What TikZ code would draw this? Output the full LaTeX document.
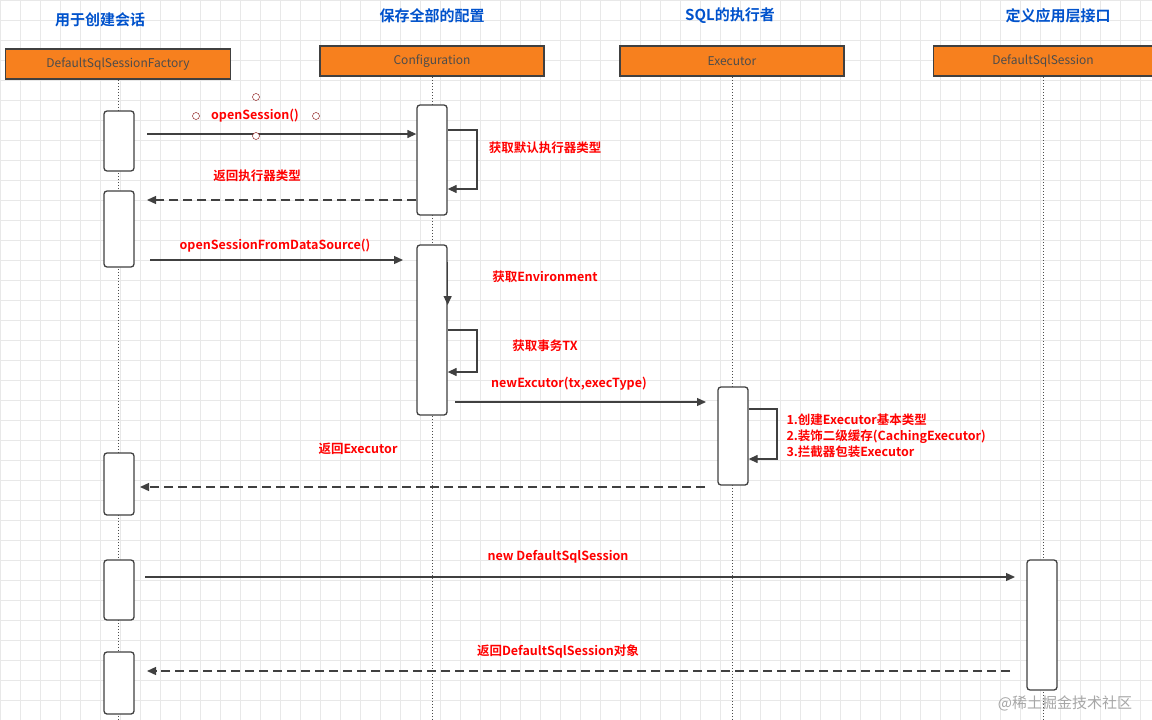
\documentclass[tikz,border=0pt]{standalone}
\usepackage{fontspec}
\setmainfont{Noto Sans CJK SC}[BoldFont={Noto Sans CJK SC Bold}]
\usetikzlibrary{arrows.meta}
\definecolor{headfill}{RGB}{247,128,30}
\tikzset{%
  tipA/.tip={Triangle[length=9pt,width=8pt]},
  head/.style={draw=black!75,fill=headfill,minimum width=224pt,minimum height=30pt,line width=1.6pt,font=\fontsize{12}{14}\selectfont,text=black!70},
  title/.style={text=blue!60!cyan!80!black,font=\bfseries\fontsize{15}{18}\selectfont},
  act/.style={draw=black!75,fill=white,rounded corners=3pt,minimum width=30pt,line width=1.3pt},
  lbl/.style={text=red,font=\bfseries\fontsize{12.5}{15}\selectfont},
  msg/.style={draw=black!75,line width=1.3pt,-tipA},
  ret/.style={msg,dashed,dash pattern=on 9pt off 5pt},
  life/.style={black!70,line width=1pt,dotted}
}
\begin{document}
\begin{tikzpicture}[x=1pt,y=-1pt]
\useasboundingbox (0,0) rectangle (1152,720);
\foreach \gx in {0,20,...,1140} \draw[gray!18] (\gx,0) -- (\gx,720);
\foreach \gy in {0,20,...,720} \draw[gray!18] (0,\gy) -- (1152,\gy);
% titles
\node[title] at (100,20) {用于创建会话};
\node[title] at (432,16) {保存全部的配置};
\node[title] at (730,16) {SQL的执行者};
\node[title] at (1058,16) {定义应用层接口};
% heads and lifelines
\node[head,minimum width=225pt] (fac) at (118,64) {DefaultSqlSessionFactory};
\node[head] (cfg) at (432,61) {Configuration};
\node[head] (exe) at (732,61) {Executor};
\node[head,minimum width=219pt] (ses) at (1043,61) {DefaultSqlSession};
\foreach \h in {fac,cfg,exe,ses} \draw[life] (\h.south) -- (\h.south |- 0,720);
% activations
\node[act,minimum height=60pt] (f1) at (119,141) {};
\node[act,minimum height=76pt] (f2) at (119,229) {};
\node[act,minimum height=62pt] (f3) at (119,484) {};
\node[act,minimum height=60pt] (f4) at (119,590) {};
\node[act,minimum height=62pt] (f5) at (119,683) {};
\node[act,minimum height=110pt] (c1) at (432,160) {};
\node[act,minimum height=170pt] (c2) at (432,330) {};
\node[act,minimum height=98pt] (e1) at (733,436) {};
\node[act,minimum height=130pt] (s1) at (1042,625) {};
% openSession
\draw[msg] (147,134) -- (c1.west |- 0,134);
\node[lbl] (m1) at (255,116) {openSession()};
\foreach \p in {(256,97),(196,116),(316,116),(256,136)}
  \draw[red!50!black,fill=white] \p circle (3.5);
\draw[msg] (c1.east |- 0,130) -- (477,130) -- (477,189) -- (c1.east |- 0,189);
\node[lbl] at (545,148) {获取默认执行器类型};
\draw[ret] (c1.west |- 0,200) -- (147,200);
\node[lbl] at (257,176) {返回执行器类型};
% openSessionFromDataSource
\draw[msg] (150,260) -- (403,260);
\node[lbl] at (275,246) {openSessionFromDataSource()};
\draw[msg] (c2.east |- 0,262) -- (c2.east |- 0,305);
\node[lbl] at (545,277) {获取Environment};
\draw[msg] (c2.east |- 0,330) -- (477,330) -- (477,372) -- (c2.east |- 0,372);
\node[lbl] at (545,346) {获取事务TX};
\draw[msg] (455,402) -- (706,402);
\node[lbl] at (569,384) {newExcutor(tx,execType)};
\draw[msg] (e1.east |- 0,409) -- (777,409) -- (777,459) -- (e1.east |- 0,459);
\node[lbl,align=left,anchor=west,font=\bfseries\fontsize{12.5}{16}\selectfont] at (783,436) {1.创建Executor基本类型\\2.装饰二级缓存(CachingExecutor)\\3.拦截器包装Executor};
\node[lbl] at (358,449) {返回Executor};
\draw[ret] (705,487) -- (140,487);
% session
\draw[msg] (145,577) -- (1015,577);
\node[lbl] at (558,557) {new DefaultSqlSession};
\draw[ret] (1010,671) -- (147,671);
\node[lbl] at (558,652) {返回DefaultSqlSession对象};
\node[text=gray!70,font=\fontsize{15}{17}\selectfont] at (1065,703) {@稀土掘金技术社区};
\end{tikzpicture}
\end{document}
